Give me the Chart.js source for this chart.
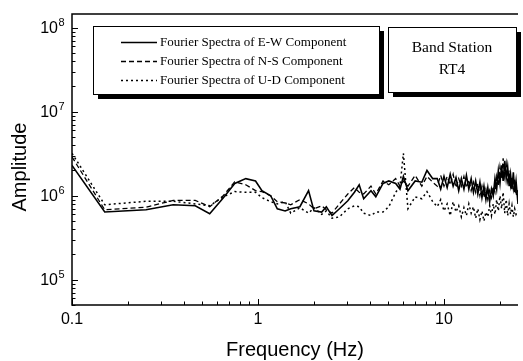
<!DOCTYPE html>
<html>
<head>
<meta charset="utf-8">
<script src="https://cdn.jsdelivr.net/npm/chart.js@4"></script>
<style>
  html, body { margin: 0; padding: 0; background: #fff; }
  canvas { display: block; }
</style>
</head>
<body>
<canvas id="spectra" width="523" height="361"></canvas>
<script>
// frequency (Hz)
const freqs = [
  0.1, 0.15, 0.25, 0.35, 0.46, 0.55, 0.65, 0.75, 0.86, 0.97,
  1.05, 1.17, 1.27, 1.4, 1.5, 1.68, 1.87, 2.0, 2.2, 2.33,
  2.5, 2.74, 3.04, 3.3, 3.5, 3.7, 4.05, 4.3, 4.7, 5.05,
  5.5, 5.8, 6.05, 6.4, 7.0, 7.6, 8.1, 8.7, 9.2, 9.6,
  10, 10.4, 10.8, 11.2, 11.6, 12.0, 12.4, 12.8, 13.2, 13.6,
  14.0, 14.4, 14.8, 15.2, 15.6, 16.0, 16.4, 16.8, 17.2, 17.6,
  18.0, 18.4, 18.8, 19.2, 19.6, 20.0, 20.4, 20.8, 21.2, 21.6,
  22.0, 22.4, 22.8, 23.2, 23.6, 24.0, 24.4, 25.0
];
// E-W component
const ewAmp = [
  2.3e6, 6.4e5, 6.8e5, 7.8e5, 7.6e5, 6.1e5, 9.4e5, 1.4e6, 1.6e6, 1.5e6,
  1.15e6, 1.0e6, 7.0e5, 6.6e5, 7.0e5, 7.4e5, 1.15e6, 6.6e5, 6.4e5, 7.4e5,
  5.8e5, 7.0e5, 8.7e5, 1.1e6, 1.35e6, 9.2e5, 1.15e6, 9.7e5, 1.4e6, 1.5e6,
  1.4e6, 1.2e6, 1.7e6, 1.15e6, 1.5e6, 1.45e6, 2.0e6, 1.6e6, 1.6e6, 1.2e6,
  1.7e6, 1.25e6, 1.8e6, 1.3e6, 1.65e6, 1.15e6, 1.6e6, 1.2e6, 1.75e6, 1.2e6,
  1.6e6, 1.1e6, 1.5e6, 1.05e6, 1.45e6, 9.5e5, 1.3e6, 9.0e5, 1.25e6, 8.5e5,
  1.2e6, 1.0e6, 1.6e6, 1.2e6, 2.0e6, 1.4e6, 2.3e6, 1.5e6, 2.6e6, 1.6e6,
  2.2e6, 1.3e6, 1.8e6, 1.2e6, 1.9e6, 1.1e6, 1.5e6, 8.0e5
];
// N-S component
const nsAmp = [
  2.9e6, 6.8e5, 7.3e5, 8.8e5, 8.8e5, 7.4e5, 1.0e6, 1.47e6, 1.35e6, 1.15e6,
  1.12e6, 1.0e6, 8.5e5, 8.2e5, 7.8e5, 9.0e5, 8.0e5, 7.0e5, 7.6e5, 6.8e5,
  6.2e5, 8.0e5, 1.05e6, 1.25e6, 1.1e6, 1.05e6, 1.3e6, 1.05e6, 1.5e6, 1.35e6,
  1.6e6, 1.3e6, 1.5e6, 1.3e6, 1.75e6, 1.3e6, 1.7e6, 1.45e6, 1.3e6, 1.75e6,
  1.3e6, 1.7e6, 1.35e6, 1.8e6, 1.25e6, 1.6e6, 1.3e6, 1.7e6, 1.25e6, 1.55e6,
  1.15e6, 1.45e6, 1.1e6, 1.4e6, 1.0e6, 1.3e6, 9.5e5, 1.2e6, 9.0e5, 1.15e6,
  9.5e5, 1.3e6, 1.1e6, 1.7e6, 1.3e6, 2.2e6, 1.6e6, 2.8e6, 1.7e6, 2.4e6,
  1.5e6, 2.0e6, 1.3e6, 1.7e6, 1.2e6, 1.6e6, 1.0e6, 1.2e6
];
// U-D component
const udAmp = [
  3.2e6, 7.8e5, 8.6e5, 8.6e5, 8.0e5, 7.6e5, 9.7e5, 1.12e6, 1.1e6, 1.1e6,
  9.5e5, 8.5e5, 8.0e5, 8.5e5, 6.2e5, 7.2e5, 6.2e5, 7.2e5, 6.0e5, 6.6e5,
  5.4e5, 5.6e5, 7.0e5, 7.6e5, 7.4e5, 6.2e5, 5.8e5, 6.4e5, 6.4e5, 7.4e5,
  1.1e6, 1.3e6, 3.2e6, 7.0e5, 9.7e5, 9.2e5, 1.12e6, 8.5e5, 7.4e5, 9.0e5,
  6.6e5, 8.0e5, 5.8e5, 8.5e5, 6.4e5, 7.6e5, 5.6e5, 7.2e5, 5.8e5, 8.0e5,
  6.2e5, 7.4e5, 5.4e5, 7.0e5, 5.2e5, 6.6e5, 5.0e5, 6.4e5, 5.6e5, 7.6e5,
  5.8e5, 8.0e5, 6.0e5, 9.0e5, 6.6e5, 1.0e6, 7.0e5, 1.1e6, 6.2e5, 9.0e5,
  5.8e5, 8.0e5, 6.0e5, 7.6e5, 5.6e5, 7.0e5, 6.0e5, 6.6e5
];
const yTickExps = [5, 6, 7, 8];
const legendLabels = [
  'Fourier Spectra of E-W Component',
  'Fourier Spectra of N-S Component',
  'Fourier Spectra of U-D Component'
];
const stationText = ['Band Station', 'RT4'];

const SANS = 'Liberation Sans, Arial, sans-serif';
const SERIF = 'Liberation Serif, Times New Roman, serif';

function pts(vals) {
  return freqs.map((f, i) => ({ x: f, y: vals[i] }));
}

function shadowBox(ctx, x0, y0, x1, y1) {
  ctx.fillStyle = '#000';
  ctx.fillRect(x0 + 5, y0 + 5, x1 - x0, y1 - y0);
  ctx.fillStyle = '#fff';
  ctx.fillRect(x0, y0, x1 - x0, y1 - y0);
  ctx.lineWidth = 1;
  ctx.strokeStyle = '#000';
  ctx.strokeRect(x0 + 0.5, y0 + 0.5, x1 - x0, y1 - y0);
}

const framePlugin = {
  id: 'frame',
  afterDraw(chart) {
    const { ctx, chartArea: a } = chart;
    const x = chart.scales.x, y = chart.scales.y;
    ctx.save();

    // axes frame (left, top, bottom)
    ctx.strokeStyle = '#000';
    ctx.lineWidth = 1.5;
    ctx.beginPath();
    ctx.moveTo(a.right, a.top);
    ctx.lineTo(a.left, a.top);
    ctx.lineTo(a.left, a.bottom);
    ctx.lineTo(a.right, a.bottom);
    ctx.stroke();

    // inward ticks
    ctx.lineWidth = 1;
    ctx.beginPath();
    for (let e = -1; e <= 1; e++) {
      for (let m = 1; m <= 9; m++) {
        const v = m * Math.pow(10, e);
        if (v < x.min - 1e-9 || v > x.max) continue;
        const px = Math.round(x.getPixelForValue(v)) + 0.5;
        ctx.moveTo(px, a.bottom);
        ctx.lineTo(px, a.bottom - (m === 1 ? 6 : 3.5));
      }
    }
    for (let e = 4; e <= 8; e++) {
      for (let m = 1; m <= 9; m++) {
        const v = m * Math.pow(10, e);
        if (v < y.min || v > y.max) continue;
        const py = Math.round(y.getPixelForValue(v)) + 0.5;
        ctx.moveTo(a.left, py);
        ctx.lineTo(a.left + (m === 1 ? 6 : 3.5), py);
      }
    }
    ctx.stroke();

    // y tick labels 10^n
    ctx.fillStyle = '#000';
    yTickExps.forEach(n => {
      const py = y.getPixelForValue(Math.pow(10, n));
      ctx.font = '16px ' + SANS;
      ctx.textAlign = 'right';
      ctx.textBaseline = 'middle';
      ctx.fillText('10', 58, py + 1);
      ctx.font = '11px ' + SANS;
      ctx.textAlign = 'left';
      ctx.textBaseline = 'alphabetic';
      ctx.fillText(String(n), 58.5, py - 2);
    });

    // axis titles
    ctx.font = '20px ' + SANS;
    ctx.textAlign = 'center';
    ctx.textBaseline = 'middle';
    ctx.fillText('Frequency (Hz)', (a.left + a.right) / 2, 350);
    ctx.save();
    ctx.translate(20, 167);
    ctx.rotate(-Math.PI / 2);
    ctx.fillText('Amplitude', 0, 0);
    ctx.restore();

    // legend box
    shadowBox(ctx, 93, 26, 379, 94);
    const rows = [42, 61, 80];
    chart.data.datasets.forEach((ds, i) => {
      ctx.strokeStyle = '#000';
      ctx.lineWidth = ds.borderWidth;
      ctx.setLineDash(ds.borderDash || []);
      ctx.beginPath();
      ctx.moveTo(121, rows[i] + 0.5);
      ctx.lineTo(157, rows[i] + 0.5);
      ctx.stroke();
      ctx.setLineDash([]);
      ctx.fillStyle = '#000';
      ctx.font = '13px ' + SERIF;
      ctx.textAlign = 'left';
      ctx.textBaseline = 'middle';
      ctx.fillText(legendLabels[i], 160, rows[i] + 1);
    });

    // station box
    shadowBox(ctx, 388, 27, 516, 92);
    ctx.fillStyle = '#000';
    ctx.font = '15.5px ' + SERIF;
    ctx.textAlign = 'center';
    ctx.textBaseline = 'middle';
    ctx.fillText(stationText[0], 452, 48);
    ctx.fillText(stationText[1], 452, 70);

    ctx.restore();
  }
};

new Chart(document.getElementById('spectra'), {
  type: 'line',
  data: {
    datasets: [
      { label: legendLabels[0], data: pts(ewAmp), borderColor: '#000', borderWidth: 1.6,
        pointRadius: 0, tension: 0 },
      { label: legendLabels[1], data: pts(nsAmp), borderColor: '#000', borderWidth: 1.3,
        borderDash: [5, 3], pointRadius: 0, tension: 0 },
      { label: legendLabels[2], data: pts(udAmp), borderColor: '#000', borderWidth: 1.5,
        borderDash: [2, 3], pointRadius: 0, tension: 0 }
    ]
  },
  options: {
    responsive: false,
    animation: false,
    events: [],
    layout: { padding: { left: 0, right: 0, top: 14, bottom: 0 } },
    plugins: { legend: { display: false }, tooltip: { enabled: false } },
    scales: {
      x: {
        type: 'logarithmic', min: 0.1, max: 25,
        grid: { display: false, drawTicks: false },
        border: { display: false },
        ticks: {
          autoSkip: false, maxRotation: 0, padding: 5, color: '#000',
          font: { family: SANS, size: 16 },
          callback(v) {
            const lg = Math.log10(v);
            if (Math.abs(lg - Math.round(lg)) > 1e-6) return '';
            return v < 1 ? v.toFixed(1) : String(Math.round(v));
          }
        },
        afterFit(s) { s.height = 56; }
      },
      y: {
        type: 'logarithmic', min: 5e4, max: 1.46e8,
        grid: { display: false, drawTicks: false },
        border: { display: false },
        ticks: { display: false },
        afterFit(s) { s.width = 72; }
      }
    }
  },
  plugins: [framePlugin]
});
</script>
</body>
</html>
